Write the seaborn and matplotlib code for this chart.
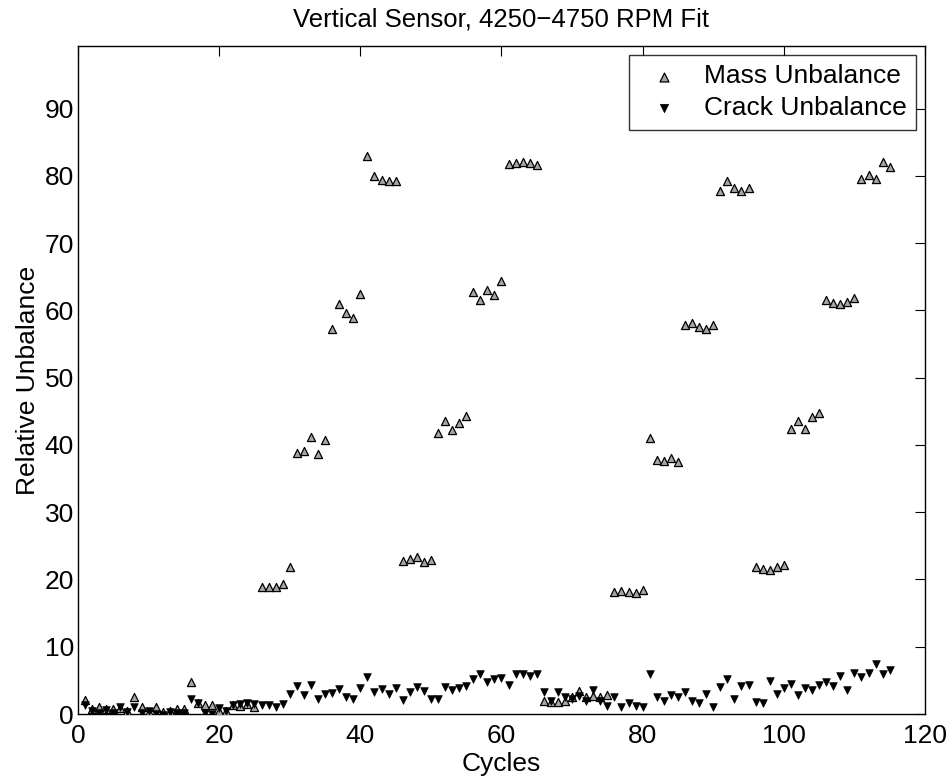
import numpy as np
import pandas as pd
import matplotlib
matplotlib.use("Agg")
import matplotlib.pyplot as plt
import seaborn as sns

mass_cycles = list(range(1, 116))
mass_values = [
    2.1, 0.8, 1.1, 0.7, 0.7, 0.9, 0.4, 2.6, 1.0, 0.3,
    1.1, 0.3, 0.5, 0.7, 0.7, 4.7, 1.6, 1.3, 1.3, 0.5,
    0.4, 1.3, 1.2, 1.5, 1.0, 18.9, 18.9, 18.9, 19.3, 21.8,
    38.8, 39.1, 41.2, 38.7, 40.7, 57.3, 61.0, 59.6, 58.9, 62.5,
    82.9, 80.0, 79.4, 79.3, 79.2, 22.8, 23.0, 23.3, 22.6, 22.9,
    41.7, 43.6, 42.2, 43.3, 44.3, 62.7, 61.6, 63.1, 62.3, 64.3,
    81.7, 81.9, 82.0, 81.9, 81.6, 1.9, 1.8, 1.8, 1.9, 2.6,
    3.4, 2.5, 2.7, 2.6, 2.9, 18.2, 18.3, 18.2, 18.0, 18.5,
    41.1, 37.8, 37.6, 38.1, 37.4, 57.8, 58.1, 57.6, 57.3, 57.9,
    77.7, 79.3, 78.2, 77.7, 78.2, 21.8, 21.6, 21.4, 21.9, 22.1,
    42.3, 43.6, 42.3, 44.2, 44.7, 61.5, 61.1, 60.9, 61.3, 61.9,
    79.6, 80.2, 79.6, 82.1, 81.3,
]
crack_cycles = list(range(1, 116))
crack_values = [
    1.4, 0.5, 0.1, 0.6, 0.2, 1.1, 0.3, 1.1, 0.1, 0.4,
    0.0, -0.1, 0.3, 0.1, 0.1, 2.2, 1.7, 0.2, 0.0, 0.9,
    0.4, 1.3, 1.5, 1.6, 1.5, 1.3, 1.4, 1.0, 1.5, 3.0,
    4.2, 2.9, 4.3, 2.2, 3.0, 3.1, 3.7, 2.5, 2.3, 3.9,
    5.5, 3.3, 3.7, 3.0, 3.8, 2.1, 3.3, 4.0, 3.4, 2.3,
    2.3, 4.0, 3.6, 3.9, 4.2, 5.2, 5.9, 4.7, 5.2, 5.3,
    4.3, 5.9, 5.9, 5.6, 5.9, 3.3, 2.0, 3.3, 2.5, 2.2,
    2.7, 2.0, 3.6, 1.9, 1.2, 2.6, 1.0, 1.7, 1.2, 1.1,
    5.9, 2.6, 2.0, 2.8, 2.5, 3.2, 2.0, 1.6, 3.0, 1.0,
    4.0, 5.2, 2.3, 4.2, 4.3, 1.8, 1.6, 4.9, 3.0, 3.8,
    4.4, 2.9, 3.8, 3.5, 4.3, 4.8, 4.2, 5.6, 3.6, 6.1,
    5.5, 6.1, 7.4, 5.9, 6.6,
]
series_names = ["Mass Unbalance", "Crack Unbalance"]
title_text = "Vertical Sensor, 4250\u22124750 RPM Fit"
x_label = "Cycles"
y_label = "Relative Unbalance"
x_ticks = [0, 20, 40, 60, 80, 100, 120]
y_ticks = [0, 10, 20, 30, 40, 50, 60, 70, 80, 90]

df = pd.concat([
    pd.DataFrame({"Cycles": mass_cycles, "Value": mass_values, "Series": series_names[0]}),
    pd.DataFrame({"Cycles": crack_cycles, "Value": crack_values, "Series": series_names[1]}),
], ignore_index=True)

sns.set_theme(style="white")
plt.rcParams["font.family"] = ["Liberation Sans", "DejaVu Sans"]
plt.rcParams["text.color"] = "black"
plt.rcParams["axes.labelcolor"] = "black"

fig = plt.figure(figsize=(9.49, 7.80), dpi=100)
ax = fig.add_axes([0.0822, 0.0846, 0.8925, 0.8564])

sns.scatterplot(
    data=df[df.Series == series_names[0]], x="Cycles", y="Value",
    marker="^", s=34, color="#a6a6a6", edgecolor="black", linewidth=0.9,
    ax=ax, label=series_names[0], zorder=3,
)
sns.scatterplot(
    data=df[df.Series == series_names[1]], x="Cycles", y="Value",
    marker="v", s=30, color="black", edgecolor="black", linewidth=0.5,
    ax=ax, label=series_names[1], zorder=3,
)

ax.set_xlim(0, 120)
ax.set_ylim(0, 99.3)
ax.set_xticks(x_ticks)
ax.set_yticks(y_ticks)
ax.tick_params(axis="both", which="both", direction="in", length=7, width=0.8,
               top=True, right=True, labelsize=19, colors="black")
ax.tick_params(axis="x", pad=7)
ax.tick_params(axis="y", pad=3)
for sp in ax.spines.values():
    sp.set_visible(True)
    sp.set_color("black")
    sp.set_linewidth(1.0)

ax.set_xlabel(x_label, fontsize=19, labelpad=3, color="black")
ax.set_ylabel(y_label, fontsize=19, labelpad=3, color="black")
ax.set_title(title_text, fontsize=18.5, pad=14, color="black")

leg = ax.legend(loc="upper right", fontsize=19, frameon=True, fancybox=False,
                edgecolor="black", borderpad=0.35, handletextpad=0.5,
                labelspacing=0.3, borderaxespad=0.35, handlelength=2.0,
                markerscale=1.1)
leg.get_frame().set_linewidth(1.0)
for t in leg.get_texts():
    t.set_color("black")

fig.savefig("out.png", dpi=100)
